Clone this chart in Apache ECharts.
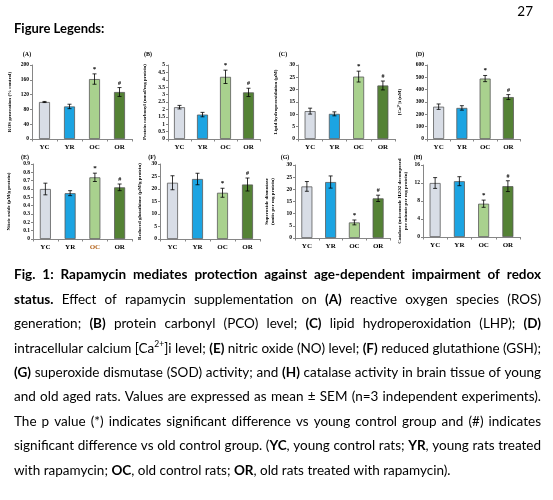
<!DOCTYPE html>
<html><head><meta charset="utf-8">
<script src="https://cdn.jsdelivr.net/npm/echarts@6/dist/echarts.min.js"></script>
<style>html,body{margin:0;padding:0;background:#fff}#c{width:553px;height:500px}</style>
</head><body><div id="c"></div>
<script>
// ---------- data ----------
const categories = ['YC', 'YR', 'OC', 'OR'];
const rosMean = [100, 88, 162, 127];      const rosErr = [1.5, 6, 14, 12];
const pcoMean = [2.15, 1.65, 4.2, 3.15];  const pcoErr = [0.12, 0.15, 0.45, 0.28];
const lhpMean = [11.3, 10.2, 25.3, 21.7]; const lhpErr = [1.2, 0.8, 2.2, 1.8];
const caMean = [262, 252, 490, 340];      const caErr = [22, 18, 25, 20];
const noMean = [0.60, 0.55, 0.74, 0.62];  const noErr = [0.07, 0.03, 0.05, 0.04];
const gshMean = [22.5, 24.0, 18.5, 21.8]; const gshErr = [2.8, 2.3, 1.8, 2.6];
const sodMean = [21.2, 23.0, 6.4, 16.3];  const sodErr = [2.0, 2.5, 1.0, 1.3];
const catMean = [12.0, 12.4, 7.4, 11.3];  const catErr = [1.2, 1.0, 0.8, 1.2];
const sigMarks = ['', '', '*', '#'];
const panelLetters = ['(A)', '(B)', '(C)', '(D)', '(E)', '(F)', '(G)', '(H)'];
const yNames = [
  'ROS generation (% control)',
  'Protein carbonyl (nmol/mg protein)',
  'Lipid hydroperoxidation (µM)',
  '[Ca²⁺]i (nM)',
  'Nitric oxide (µM/g protein)',
  'Reduced glutathione (µM/g protein)',
  'Superoxide dismutase\n(units per mg protein)',
  'Catalase (micromole H2O2 decomposed\nper minute per mg protein)'
];
const yMaxes = [200, 5, 30, 600, 0.9, 30, 30, 16];
const yIntervals = [40, 0.5, 5, 100, 0.1, 5, 5, 4];
const pageNumber = '27';
const heading = 'Figure Legends:';
const captionLines = [
  '§Fig. 1: Rapamycin mediates protection against age-dependent impairment of redox§',
  '§status.§ Effect of rapamycin supplementation on §(A)§ reactive oxygen species (ROS)',
  'generation; §(B)§ protein carbonyl (PCO) level; §(C)§ lipid hydroperoxidation (LHP); §(D)§',
  'intracellular calcium [Ca^2+^]i level; §(E)§ nitric oxide (NO) level; §(F)§ reduced glutathione (GSH);',
  '§(G)§ superoxide dismutase (SOD) activity; and §(H)§ catalase activity in brain tissue of young',
  'and old aged rats. Values are expressed as mean ± SEM (n=3 independent experiments).',
  'The p value (*) indicates significant difference vs young control group and (#) indicates',
  'significant difference vs old control group. (§YC§, young control rats; §YR§, young rats treated',
  'with rapamycin; §OC§, old control rats; §OR§, old rats treated with rapamycin).'
];

const means = [rosMean, pcoMean, lhpMean, caMean, noMean, gshMean, sodMean, catMean];
const errs = [rosErr, pcoErr, lhpErr, caErr, noErr, gshErr, sodErr, catErr];

// ---------- layout / style ----------
const barColors = ['#d8dde6', '#1ca4e2', '#a9d18e', '#548235'];
const grids = [
  {left: 32, top: 65, width: 100, height: 74},
  {left: 168, top: 65, width: 92, height: 74},
  {left: 298, top: 65, width: 97, height: 74},
  {left: 427, top: 65, width: 93, height: 74},
  {left: 33, top: 164, width: 99, height: 75},
  {left: 160, top: 164, width: 100, height: 75},
  {left: 295, top: 165, width: 95, height: 73},
  {left: 423, top: 165, width: 97, height: 72}
];
const nameGaps = [19, 20, 19, 24, 21, 17, 19, 14];
const letterPos = [[27, 54], [148, 54], [283, 54], [420, 54], [25, 157], [152, 157], [285, 157], [418, 157]];
const serif = 'Liberation Serif';

const chart = echarts.init(document.getElementById('c'), null, {renderer: 'canvas'});

const xAxes = [], yAxes = [], series = [];
grids.forEach((g, i) => {
  xAxes.push({
    type: 'category', gridIndex: i,
    data: categories.map(c => (i === 4 && c === 'OC') ? {value: c, textStyle: {color: '#b5651d'}} : c),
    axisLine: {lineStyle: {color: '#868686', width: 1}},
    axisTick: {show: true, length: 2.5, lineStyle: {color: '#868686'}},
    axisLabel: {fontFamily: serif, fontWeight: 'bold', fontSize: 7, color: '#000', margin: 5}
  });
  yAxes.push({
    type: 'value', gridIndex: i, min: 0, max: yMaxes[i], interval: yIntervals[i],
    axisLine: {show: true, lineStyle: {color: '#868686', width: 1}},
    axisTick: {show: true, length: 2, lineStyle: {color: '#868686'}},
    splitLine: {show: false},
    axisLabel: {fontFamily: serif, fontWeight: 'bold', fontSize: 5.5, color: '#000', margin: 3},
    name: yNames[i], nameLocation: 'middle', nameGap: nameGaps[i],
    nameTextStyle: {fontFamily: serif, fontWeight: 'bold', fontSize: 5, color: '#000', lineHeight: 6}
  });
  series.push({
    type: 'bar', xAxisIndex: i, yAxisIndex: i, barWidth: 11,
    data: means[i].map((v, j) => ({value: v, itemStyle: {color: barColors[j]}})),
    itemStyle: {borderColor: '#5a5a5a', borderWidth: 0.8},
    silent: true, animation: false
  });
  const m = means[i], e = errs[i];
  series.push({
    type: 'custom', xAxisIndex: i, yAxisIndex: i, z: 10, animation: false, silent: true,
    data: m.map((v, j) => [j, v, e[j]]),
    renderItem: (params, api) => {
      const x = api.value(0), v = api.value(1), er = api.value(2);
      const top = api.coord([x, v + er]), bot = api.coord([x, v - er]);
      const cap = 2;
      const ls = {stroke: '#000', lineWidth: 0.8};
      const children = [
        {type: 'line', shape: {x1: top[0], y1: top[1], x2: bot[0], y2: bot[1]}, style: ls},
        {type: 'line', shape: {x1: top[0] - cap, y1: top[1], x2: top[0] + cap, y2: top[1]}, style: ls},
        {type: 'line', shape: {x1: bot[0] - cap, y1: bot[1], x2: bot[0] + cap, y2: bot[1]}, style: ls}
      ];
      const mk = sigMarks[params.dataIndex];
      if (mk) {
        children.push({type: 'text', x: top[0], y: top[1] - 1.5,
          style: {text: mk, fontFamily: serif, fontWeight: 'bold', fontSize: mk === '*' ? 7 : 6,
                  fill: '#000', align: 'center', verticalAlign: 'bottom'}});
      }
      return {type: 'group', children};
    }
  });
});

// ---------- caption text ----------
const capFamily = 'Lato', capFS = 13.5, capSupFS = 8.5;
const capLeft = 14, capRight = 541, capTop = 275, capLH = 24.4;
const ctx = document.createElement('canvas').getContext('2d');
function mw(t, b, fs) { ctx.font = (b ? 'bold ' : '') + fs + 'px ' + capFamily; return ctx.measureText(t).width; }
function parseLine(s) {
  let bold = false, sup = false;
  const words = [];
  s.split(' ').forEach(w => {
    const parts = []; let cur = '';
    for (const ch of w) {
      if (ch === '§') { if (cur) parts.push({t: cur, b: bold, sup}); cur = ''; bold = !bold; }
      else if (ch === '^') { if (cur) parts.push({t: cur, b: bold, sup}); cur = ''; sup = !sup; }
      else cur += ch;
    }
    if (cur) parts.push({t: cur, b: bold, sup});
    if (parts.length) words.push(parts);
  });
  return words;
}
function partW(p) { return mw(p.t, p.b, p.sup ? capSupFS : capFS); }
function wordW(ws) { return ws.reduce((a, p) => a + partW(p), 0); }
const parsed = captionLines.map(parseLine);
const spaceW = mw(' ', false, capFS);
let k = 1;
parsed.forEach(ws => {
  const w = ws.reduce((a, p) => a + wordW(p), 0) + spaceW * 0.9 * (ws.length - 1);
  k = Math.min(k, (capRight - capLeft) / w);
});
const graphics = [];
parsed.forEach((ws, li) => {
  const y = capTop + li * capLH;
  const sum = ws.reduce((a, p) => a + wordW(p) * k, 0);
  const last = li === parsed.length - 1;
  const gap = last ? spaceW * k : (capRight - capLeft - sum) / (ws.length - 1);
  let x = capLeft;
  ws.forEach(parts => {
    parts.forEach(p => {
      graphics.push({type: 'text', x: x, y: p.sup ? y - 4 : y, scaleX: k, silent: true,
        style: {text: p.t, fontFamily: capFamily, fontSize: p.sup ? capSupFS : capFS,
                fontWeight: p.b ? 'bold' : 'normal', fill: '#000', align: 'left', verticalAlign: 'middle'}});
      x += partW(p) * k;
    });
    x += gap;
  });
});
graphics.push({type: 'text', x: 14, y: 29, silent: true,
  style: {text: heading, fontFamily: capFamily, fontSize: 13, fontWeight: 'bold', fill: '#000', verticalAlign: 'middle'}});
graphics.push({type: 'text', x: 533, y: 12, silent: true,
  style: {text: pageNumber, fontFamily: capFamily, fontSize: 13.5, fill: '#000', align: 'right', verticalAlign: 'middle'}});
panelLetters.forEach((t, i) => {
  graphics.push({type: 'text', x: letterPos[i][0], y: letterPos[i][1], silent: true,
    style: {text: t, fontFamily: serif, fontSize: 6, fontWeight: 'bold', fill: '#000', align: 'center', verticalAlign: 'middle'}});
});

chart.setOption({
  backgroundColor: '#fff',
  animation: false,
  grid: grids,
  xAxis: xAxes,
  yAxis: yAxes,
  series: series,
  graphic: graphics
});
</script></body></html>
